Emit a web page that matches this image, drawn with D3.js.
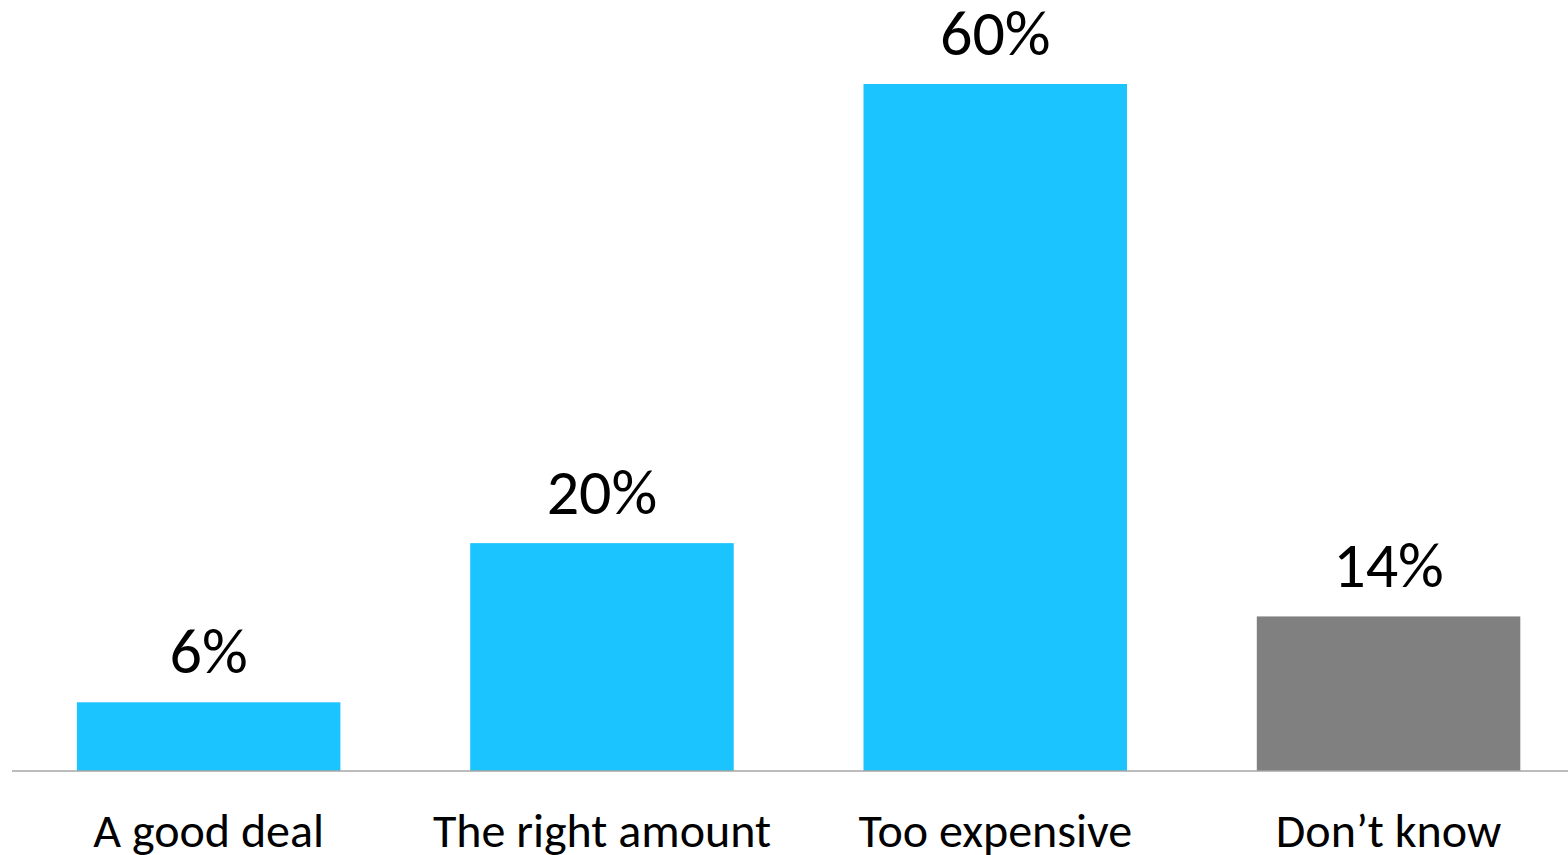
<!DOCTYPE html>
<html>
<head>
<meta charset="utf-8">
<script src="https://cdn.jsdelivr.net/npm/d3@7"></script>
<style>
  html, body { margin: 0; padding: 0; background: #ffffff; }
  svg { display: block; }
  text { font-family: Carlito, Calibri, "Open Sans", Lato, sans-serif; fill: #000; }
</style>
</head>
<body>
<svg id="chart" width="1568" height="855"></svg>
<script>
const categories = ["A good deal", "The right amount", "Too expensive", "Don\u2019t know"];
const values = [6, 19.9, 60, 13.5];
const valueLabels = ["6%", "20%", "60%", "14%"];
const barColors = ["#1BC4FF", "#1BC4FF", "#1BC4FF", "#808080"];

const svg = d3.select("#chart");
const baseY = 771;
const topY = 84;

const x = d3.scaleBand()
  .domain(categories)
  .range([12, 1585.2])
  .paddingInner(0.33)
  .paddingOuter(0.165);

const y = d3.scaleLinear()
  .domain([0, 60])
  .range([baseY, topY]);

svg.selectAll("rect.bar")
  .data(categories)
  .join("rect")
  .attr("class", "bar")
  .attr("x", d => x(d))
  .attr("width", x.bandwidth())
  .attr("y", (d, i) => y(values[i]))
  .attr("height", (d, i) => baseY - y(values[i]))
  .attr("fill", (d, i) => barColors[i]);

const axis = d3.axisBottom(x).tickSize(0).tickPadding(0);
const gx = svg.append("g")
  .attr("transform", `translate(0,${baseY})`)
  .call(axis);
gx.select(".domain")
  .attr("d", "M12,0H1568")
  .attr("stroke", "#A6A6A6")
  .attr("stroke-width", 1.5);
gx.selectAll(".tick text")
  .attr("y", 76)
  .attr("dy", 0)
  .style("font-size", "48px")
  .style("font-family", "Carlito, Calibri, 'Open Sans', Lato, sans-serif")
  .attr("fill", "#000");

svg.selectAll("text.val")
  .data(categories)
  .join("text")
  .attr("class", "val")
  .attr("x", d => x(d) + x.bandwidth() / 2)
  .attr("y", (d, i) => y(values[i]) - 29)
  .attr("text-anchor", "middle")
  .style("font-size", "64px")
  .text((d, i) => valueLabels[i]);
</script>
</body>
</html>
